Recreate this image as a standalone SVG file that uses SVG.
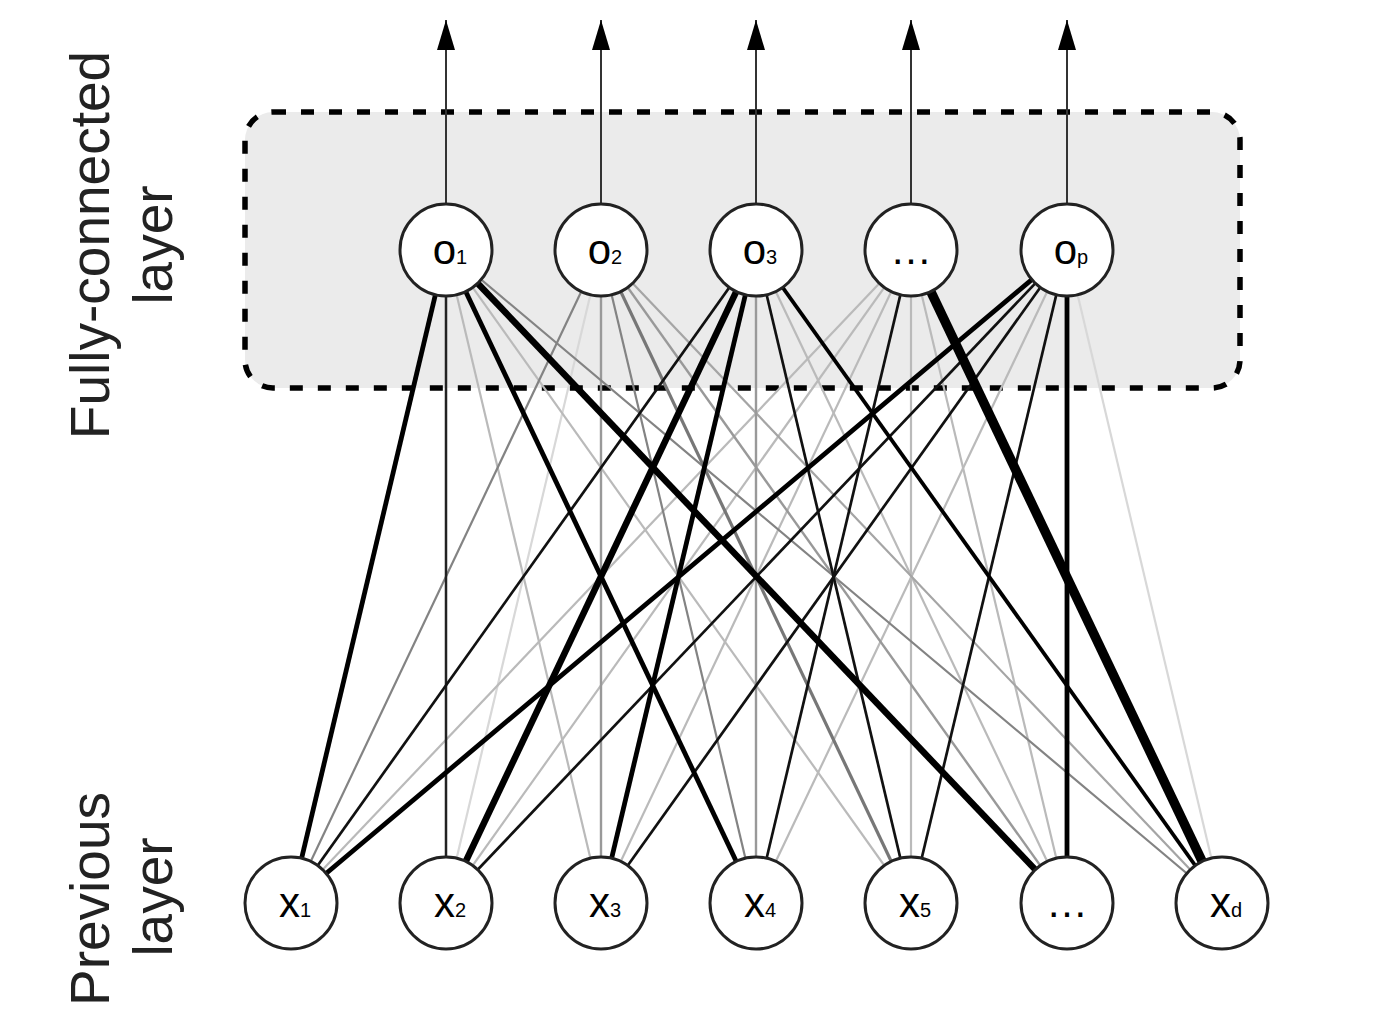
<svg xmlns="http://www.w3.org/2000/svg" width="1390" height="1032" viewBox="0 0 1390 1032">
<style>
.box{fill:#ebebeb;stroke:#000;stroke-width:5.5;stroke-dasharray:13 15;stroke-linecap:butt}
.node{fill:#fff;stroke:#222;stroke-width:3}
.lbl{font-family:"Liberation Sans",Arial,sans-serif;font-size:42px;fill:#000;text-anchor:middle}
.sub{font-size:20px}
.side{font-family:"Liberation Sans",Arial,sans-serif;font-size:55px;fill:#222;text-anchor:middle}
.arr{stroke:#333;stroke-width:2;fill:none}
.e{fill:none;stroke-linecap:butt}
.l2{stroke:#d8d8d8;stroke-width:2.2}
.l1{stroke:#bababa;stroke-width:2.2}
.g4{stroke:#a5a5a5;stroke-width:2.2}
.g3{stroke:#999;stroke-width:2.4}
.g1{stroke:#838383;stroke-width:2.2}
.g2{stroke:#777;stroke-width:3.2}
.d1{stroke:#222;stroke-width:2.5}
.k1{stroke:#111;stroke-width:2.7}
.k2{stroke:#000;stroke-width:3.8}
.k3{stroke:#000;stroke-width:4.8}
.k4{stroke:#000;stroke-width:6.5}
.k5{stroke:#000;stroke-width:9.5}
</style>
<defs>
<marker id="ah" markerUnits="userSpaceOnUse" viewBox="0 0 30 18" refX="30" refY="9" markerWidth="30" markerHeight="18" orient="auto">
<path d="M0,0 L30,9 L0,18 z" fill="#000"/>
</marker>
</defs>
<rect class="box" x="245" y="112" width="995" height="276" rx="28" ry="28"/>
<g id="side-labels">
<text class="side" transform="translate(109,245) rotate(-90)">Fully-connected</text>
<text class="side" transform="translate(172,245) rotate(-90)">layer</text>
<text class="side" transform="translate(109,899) rotate(-90)">Previous</text>
<text class="side" transform="translate(172,897) rotate(-90)">layer</text>
</g>
<g id="connectors">
<line class="e l2" x1="446" y1="903" x2="601" y2="250"/>
<line class="e l2" x1="1222" y1="903" x2="1067" y2="250"/>
<line class="e l1" x1="291" y1="903" x2="911" y2="250"/>
<line class="e l1" x1="446" y1="903" x2="911" y2="250"/>
<line class="e l1" x1="601" y1="903" x2="446" y2="250"/>
<line class="e l1" x1="601" y1="903" x2="911" y2="250"/>
<line class="e l1" x1="756" y1="903" x2="1067" y2="250"/>
<line class="e l1" x1="911" y1="903" x2="446" y2="250"/>
<line class="e l1" x1="911" y1="903" x2="911" y2="250"/>
<line class="e l1" x1="1067" y1="903" x2="756" y2="250"/>
<line class="e l1" x1="1067" y1="903" x2="911" y2="250"/>
<line class="e g4" x1="1222" y1="903" x2="601" y2="250"/>
<line class="e g3" x1="601" y1="903" x2="601" y2="250"/>
<line class="e g3" x1="756" y1="903" x2="756" y2="250"/>
<line class="e g3" x1="1067" y1="903" x2="601" y2="250"/>
<line class="e g1" x1="291" y1="903" x2="601" y2="250"/>
<line class="e g1" x1="756" y1="903" x2="601" y2="250"/>
<line class="e g1" x1="1222" y1="903" x2="446" y2="250"/>
<line class="e g2" x1="911" y1="903" x2="601" y2="250"/>
<line class="e d1" x1="446" y1="903" x2="446" y2="250"/>
<line class="e k1" x1="291" y1="903" x2="756" y2="250"/>
<line class="e k1" x1="446" y1="903" x2="1067" y2="250"/>
<line class="e k1" x1="601" y1="903" x2="1067" y2="250"/>
<line class="e k1" x1="756" y1="903" x2="911" y2="250"/>
<line class="e k1" x1="911" y1="903" x2="756" y2="250"/>
<line class="e k1" x1="911" y1="903" x2="1067" y2="250"/>
<line class="e k2" x1="1222" y1="903" x2="756" y2="250"/>
<line class="e k3" x1="291" y1="903" x2="446" y2="250"/>
<line class="e k3" x1="291" y1="903" x2="1067" y2="250"/>
<line class="e k3" x1="601" y1="903" x2="756" y2="250"/>
<line class="e k3" x1="756" y1="903" x2="446" y2="250"/>
<line class="e k3" x1="1067" y1="903" x2="1067" y2="250"/>
<line class="e k4" x1="446" y1="903" x2="756" y2="250"/>
<line class="e k4" x1="1067" y1="903" x2="446" y2="250"/>
<line class="e k5" x1="1222" y1="903" x2="911" y2="250"/>
<line class="arr" x1="446" y1="204" x2="446" y2="20" marker-end="url(#ah)"/>
<line class="arr" x1="601" y1="204" x2="601" y2="20" marker-end="url(#ah)"/>
<line class="arr" x1="756" y1="204" x2="756" y2="20" marker-end="url(#ah)"/>
<line class="arr" x1="911" y1="204" x2="911" y2="20" marker-end="url(#ah)"/>
<line class="arr" x1="1067" y1="204" x2="1067" y2="20" marker-end="url(#ah)"/>
</g>
<g id="o1"><circle class="node" cx="446" cy="250" r="46"/><text class="lbl" x="450" y="264">o<tspan class="sub">1</tspan></text></g>
<g id="o2"><circle class="node" cx="601" cy="250" r="46"/><text class="lbl" x="605" y="264">o<tspan class="sub">2</tspan></text></g>
<g id="o3"><circle class="node" cx="756" cy="250" r="46"/><text class="lbl" x="760" y="264">o<tspan class="sub">3</tspan></text></g>
<g id="o4"><circle class="node" cx="911" cy="250" r="46"/><text class="lbl" x="911" y="264">…</text></g>
<g id="op"><circle class="node" cx="1067" cy="250" r="46"/><text class="lbl" x="1071" y="264">o<tspan class="sub">p</tspan></text></g>
<g id="x1"><circle class="node" cx="291" cy="903" r="46"/><text class="lbl" x="295" y="917">x<tspan class="sub">1</tspan></text></g>
<g id="x2"><circle class="node" cx="446" cy="903" r="46"/><text class="lbl" x="450" y="917">x<tspan class="sub">2</tspan></text></g>
<g id="x3"><circle class="node" cx="601" cy="903" r="46"/><text class="lbl" x="605" y="917">x<tspan class="sub">3</tspan></text></g>
<g id="x4"><circle class="node" cx="756" cy="903" r="46"/><text class="lbl" x="760" y="917">x<tspan class="sub">4</tspan></text></g>
<g id="x5"><circle class="node" cx="911" cy="903" r="46"/><text class="lbl" x="915" y="917">x<tspan class="sub">5</tspan></text></g>
<g id="x6"><circle class="node" cx="1067" cy="903" r="46"/><text class="lbl" x="1067" y="917">…</text></g>
<g id="xd"><circle class="node" cx="1222" cy="903" r="46"/><text class="lbl" x="1226" y="917">x<tspan class="sub">d</tspan></text></g>
</svg>
